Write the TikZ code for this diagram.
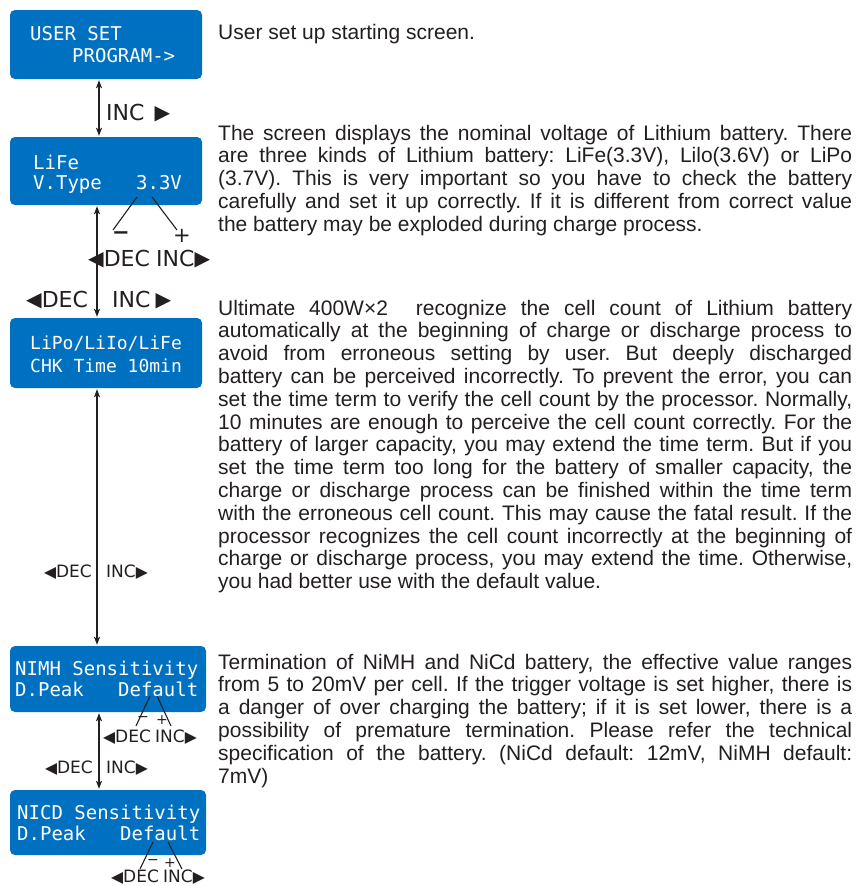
\documentclass[tikz,border=0pt]{standalone}
\usepackage{fontspec}
\setmainfont{Liberation Sans}
\newfontfamily\lcdfont{DejaVu Sans Mono}
\newfontfamily\labfont{DejaVu Sans}
\usetikzlibrary{arrows.meta}
\definecolor{lcdblue}{RGB}{0,112,192}
\definecolor{ink}{RGB}{35,31,32}
\newcommand\jline[1]{\noindent\makebox[\linewidth][s]{#1}\par}
\newcommand\lline[1]{\noindent #1\par}
\newcommand\ltri{\raisebox{0.02em}{\scalebox{0.92}{◀}}}
\newcommand\rtri{\raisebox{0.02em}{\scalebox{0.92}{▶}}}
\frenchspacing
\tikzset{
  screen/.style={fill=lcdblue, rounded corners=5pt, inner sep=0pt},
  lcdtext/.style={anchor=base west, inner sep=0pt, text=white, font=\lcdfont\fontsize{19}{21}\selectfont},
  lcdsmall/.style={lcdtext, font=\lcdfont\fontsize{18}{20}\selectfont},
  link/.style={line width=1.4pt, draw=ink, shorten <=1pt, shorten >=1pt,
    {Stealth[length=8pt,width=6pt,inset=2pt]}-{Stealth[length=8pt,width=6pt,inset=2pt]}},
  keylab/.style={inner sep=0pt, text=ink, font=\labfont\fontsize{22}{24}\selectfont},
  keysmall/.style={inner sep=0pt, text=ink, font=\labfont\fontsize{17}{19}\selectfont},
  signbig/.style={inner sep=0pt, text=ink, font=\labfont\fontsize{21}{23}\selectfont},
  signsmall/.style={inner sep=0pt, text=ink, font=\labfont\fontsize{14}{16}\selectfont},
  tick/.style={line width=1.1pt, draw=ink},
  body/.style={anchor=base west, inner sep=0pt, text=ink, font=\fontsize{21}{22.8}\selectfont},
}
\begin{document}
\begin{tikzpicture}[x=1pt,y=-1pt]
\useasboundingbox (0,0) rectangle (856,886);
\fill[white] (0,0) rectangle (856,886);

% screens
\node[screen, minimum width=192pt, minimum height=69pt] (s1) at (106,44.5) {};
\node[screen, minimum width=192pt, minimum height=68pt] (s2) at (106,171) {};
\node[screen, minimum width=192pt, minimum height=70pt] (s3) at (106,353) {};
\node[screen, minimum width=196pt, minimum height=66pt] (s4) at (108,679) {};
\node[screen, minimum width=196pt, minimum height=65pt] (s5) at (108,822.5) {};

% screen texts
\node[lcdtext] (t1a) at (30,40) {USER SET};
\node[lcdtext] (t1b) at (72,62) {PROGRAM->};
\node[lcdtext] (t2a) at (33,169) {LiFe};
\node[lcdtext] (t2b) at (33,189) {V.Type\ \ \ 3.3V};
\node[lcdsmall] (t3a) at (30,349) {LiPo/LiIo/LiFe};
\node[lcdsmall] (t3b) at (30,372) {CHK Time 10min};
\node[lcdtext] (t4a) at (15,675) {NIMH Sensitivity};
\node[lcdtext] (t4b) at (15,696) {D.Peak\ \ \ Default};
\node[lcdtext] (t5a) at (17,819) {NICD Sensitivity};
\node[lcdtext] (t5b) at (17,840) {D.Peak\ \ \ Default};

% connectors between screens
\draw[link] ([xshift=-7pt]s1.south) -- ([xshift=-7pt]s1.south |- s2.north);
\draw[link] ([xshift=-9pt]s2.south) -- ([xshift=-9pt]s2.south |- s3.north);
\draw[link] ([xshift=-9pt]s3.south) -- ([xshift=-9pt]s3.south |- s4.north);
\draw[link] ([xshift=-9pt]s4.south) -- ([xshift=-9pt]s4.south |- s5.north);

% key labels
\node[keylab, anchor=west] (inc1) at (106,113) {INC\hspace{10pt}\rtri};
\node[keylab, anchor=west] (dec2) at (88,259) {\ltri DEC};
\node[keylab, anchor=west] (inc2) at (156,259) {INC\rtri};
\node[keylab, anchor=west] (dec23) at (26,300) {\ltri DEC};
\node[keylab, anchor=west] (inc23) at (112,300) {INC\hspace{5pt}\rtri};
\node[keysmall, anchor=east] (dec34) at (92,572) {\ltri DEC};
\node[keysmall, anchor=west] (inc34) at (106,572) {INC\rtri};
\node[keysmall, anchor=west] (dec4) at (103,737) {\ltri DEC};
\node[keysmall, anchor=west] (inc4) at (155,737) {INC\rtri};
\node[keysmall, anchor=east] (dec45) at (93,768) {\ltri DEC};
\node[keysmall, anchor=west] (inc45) at (106,768) {INC\rtri};
\node[keysmall, anchor=west] (dec5) at (111,877) {\ltri DEC};
\node[keysmall, anchor=west] (inc5) at (163,877) {INC\rtri};

% value ticks
\coordinate (a2) at (137,197); \coordinate (b2) at (113,230);
\coordinate (c2) at (152,197); \coordinate (d2) at (177,230);
\draw[tick] (a2) -- (b2); \draw[tick] (c2) -- (d2);
\node[signbig] (m2) at (121,236) {\textbf{−}};
\node[signbig] (p2) at (182,236) {+};

\coordinate (a4) at (150,696); \coordinate (b4) at (136,726);
\coordinate (c4) at (157,696); \coordinate (d4) at (171,726);
\draw[tick] (a4) -- (b4); \draw[tick] (c4) -- (d4);
\node[signsmall] (m4) at (143,719) {−};
\node[signsmall] (p4) at (162,720) {+};

\coordinate (a5) at (153,842); \coordinate (b5) at (140,869);
\coordinate (c5) at (168,842); \coordinate (d5) at (182,869);
\draw[tick] (a5) -- (b5); \draw[tick] (c5) -- (d5);
\node[signsmall] (m5) at (153,862) {−};
\node[signsmall] (p5) at (170,863) {+};

% descriptions
\node[body] (d1) at (218,39) {User set up starting screen.};

\node[body] (d2) at (218,140) {\parbox[t]{634pt}{\fontsize{21}{22.8}\selectfont\parindent=0pt
\jline{The screen displays the nominal voltage of Lithium battery. There}
\jline{are three kinds of Lithium battery: LiFe(3.3V), Lilo(3.6V) or LiPo}
\jline{(3.7V). This is very important so you have to check the battery}
\jline{carefully and set it up correctly. If it is different from correct value}
\lline{the battery may be exploded during charge process.}}};

\node[body] (d3) at (218,315) {\parbox[t]{634pt}{\fontsize{21}{22.8}\selectfont\parindent=0pt
\jline{Ultimate 400W×2\ \ recognize the cell count of Lithium battery}
\jline{automatically at the beginning of charge or discharge process to}
\jline{avoid from erroneous setting by user. But deeply discharged}
\jline{battery can be perceived incorrectly. To prevent the error, you can}
\jline{set the time term to verify the cell count by the processor. Normally,}
\jline{10 minutes are enough to perceive the cell count correctly. For the}
\jline{battery of larger capacity, you may extend the time term. But if you}
\jline{set the time term too long for the battery of smaller capacity, the}
\jline{charge or discharge process can be finished within the time term}
\jline{with the erroneous cell count. This may cause the fatal result. If the}
\jline{processor recognizes the cell count incorrectly at the beginning of}
\jline{charge or discharge process, you may extend the time. Otherwise,}
\lline{you had better use with the default value.}}};

\node[body] (d4) at (218,669) {\parbox[t]{634pt}{\fontsize{21}{22.8}\selectfont\parindent=0pt
\jline{Termination of NiMH and NiCd battery, the effective value ranges}
\jline{from 5 to 20mV per cell. If the trigger voltage is set higher, there is}
\jline{a danger of over charging the battery; if it is set lower, there is a}
\jline{possibility of premature termination. Please refer the technical}
\jline{specification of the battery. (NiCd default: 12mV, NiMH default:}
\lline{7mV)}}};
\end{tikzpicture}
\end{document}
